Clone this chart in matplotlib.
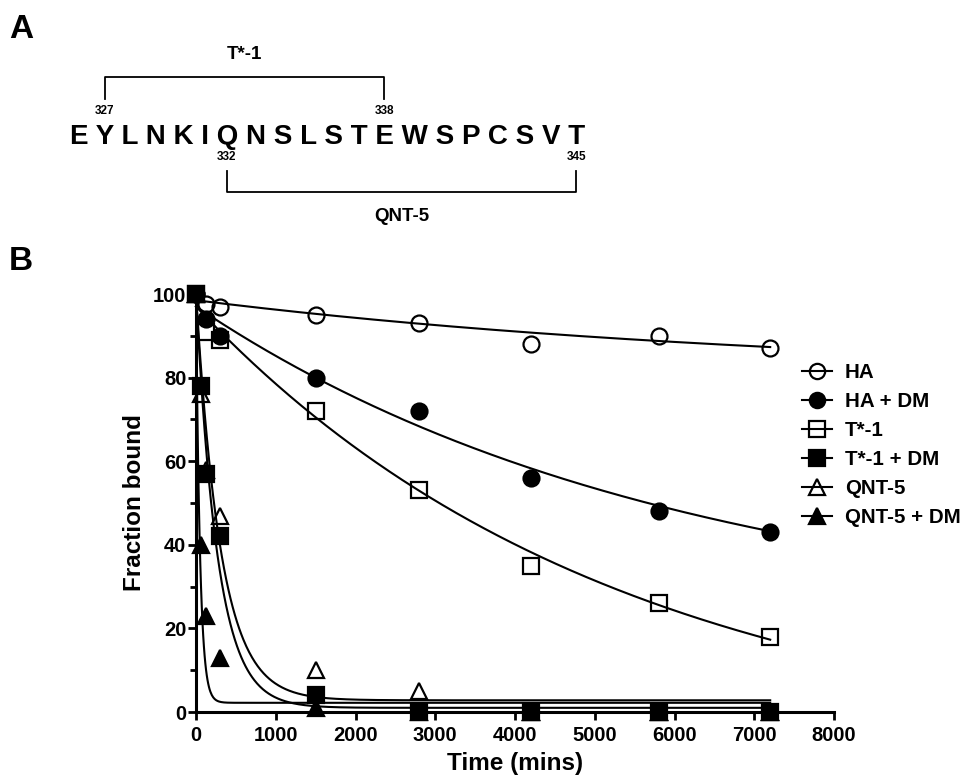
import numpy as np
import matplotlib
matplotlib.use("Agg")
import matplotlib.pyplot as plt
from matplotlib.lines import Line2D
from matplotlib.font_manager import FontProperties

plt.rcParams['font.family'] = ['Liberation Sans', 'DejaVu Sans']
plt.rcParams['font.weight'] = 'bold'
plt.rcParams['axes.labelweight'] = 'bold'

# Panel A: peptide sequence and the two peptides
residues = ["E", "Y", "L", "N", "K", "I", "Q", "N", "S", "L",
            "S", "T", "E", "W", "S", "P", "C", "S", "V", "T"]
first_residue = 326
pep_names = ["T*-1", "QNT-5"]
pep_start = [327, 332]
pep_end = [338, 345]

# Panel B: fraction bound vs time (mins)
t_slow = [0, 120, 300, 1500, 2800, 4200, 5800, 7200]
t_fast = [0, 60, 120, 300, 1500, 2800, 4200, 5800, 7200]

ha = [100, 97.6, 97, 95, 93, 88, 90, 87]
ha_dm = [100, 94, 90, 80, 72, 56, 48, 43]
t1 = [100, 91, 89, 72, 53, 35, 26, 18]
t1_dm = [100, 78, 57, 42, 4, 0, 0, 0, 0]
qnt5 = [100, 76, 58, 47, 10, 5, 0, 0, 0]
qnt5_dm = [100, 40, 23, 13, 1, 0, 0, 0, 0]

series_names = ["HA", "HA + DM", "T*-1", "T*-1 + DM", "QNT-5", "QNT-5 + DM"]
series_t = [t_slow, t_slow, t_slow, t_fast, t_fast, t_fast]
series_y = [ha, ha_dm, t1, t1_dm, qnt5, qnt5_dm]

# one phase decay fits: y = plateau + (y0 - plateau) * exp(-k t)
fit_y0 = [98.5, 97, 97, 100, 100, 100]
fit_plateau = [80, 20, -10, 1.0, 2.8, 2.2]
fit_k = [1.29e-4, 1.664e-4, 1.897e-4, 3.7e-3, 3.2e-3, 2.0e-2]

markers = ["o", "o", "s", "s", "^", "^"]
filled = [False, True, False, True, False, True]

W, H = 968, 779
fig = plt.figure(figsize=(W / 100, H / 100), dpi=100)

# overlay in pixel coords for panel A and panel letters
ax0 = fig.add_axes([0, 0, 1, 1])
ax0.set_xlim(0, W)
ax0.set_ylim(H, 0)
ax0.axis("off")

ax0.text(9, 38, "A", fontsize=24, va="baseline", ha="left")
ax0.text(9, 270, "B", fontsize=24, va="baseline", ha="left")

seq_fs = 20
seq = " ".join(residues)
x_seq = 69.5
ax0.text(x_seq, 143.5, seq, fontsize=seq_fs, va="baseline", ha="left")

# centre of each residue from the text metrics
renderer = fig.canvas.get_renderer()
prop = FontProperties(family=['Liberation Sans', 'DejaVu Sans'], weight='bold', size=seq_fs)
def tw(s):
	return renderer.get_text_width_height_descent(s, prop, ismath=False)[0]
centers = []
for i in range(len(residues)):
	pre = " ".join(residues[:i + 1])
	centers.append(x_seq + tw(pre) - tw(residues[i]) / 2)

def res_x(n):
	return centers[n - first_residue]

# T*-1 above, QNT-5 below
xa, xb = res_x(pep_start[0]), res_x(pep_end[0])
ax0.plot([xa, xa, xb, xb], [99, 76.6, 76.6, 99], color="k", lw=1.3)
ax0.text((xa + xb) / 2, 54.5, pep_names[0], fontsize=13.5, ha="center", va="center")
for n in (pep_start[0], pep_end[0]):
	ax0.text(res_x(n), 111, str(n), fontsize=8.5, ha="center", va="center")

xa, xb = res_x(pep_start[1]), res_x(pep_end[1])
ax0.plot([xa, xa, xb, xb], [170.5, 191.6, 191.6, 170.5], color="k", lw=1.3)
ax0.text((xa + xb) / 2, 216.5, pep_names[1], fontsize=13.5, ha="center", va="center")
for n in (pep_start[1], pep_end[1]):
	ax0.text(res_x(n), 157, str(n), fontsize=8.5, ha="center", va="center")

# Panel B
ax = fig.add_axes([196 / W, 1 - 712 / H, 638 / W, 418 / H])
ax.patch.set_alpha(0)
tt = np.linspace(0, 7200, 800)
handles = []
for i in range(len(series_names)):
	fit = fit_plateau[i] + (fit_y0[i] - fit_plateau[i]) * np.exp(-fit_k[i] * tt)
	ax.plot(tt, fit, color="k", lw=1.5, clip_on=False, zorder=2 + i)
	fc = "k" if filled[i] else "none"
	ax.plot(series_t[i], series_y[i], ls="none", marker=markers[i], ms=11.5,
		mfc=fc, mec="k", mew=1.6, clip_on=False, zorder=3 + i)
	handles.append(Line2D([], [], color="k", lw=1.5, marker=markers[i], ms=11,
		mfc=fc, mec="k", mew=1.6))

ax.set_xlim(0, 8000)
ax.set_ylim(0, 100)
ax.spines[["top", "right"]].set_visible(False)
for s in ["left", "bottom"]:
	ax.spines[s].set_linewidth(2.2)
ax.set_xticks(np.arange(0, 8001, 1000))
ax.set_yticks(np.arange(0, 101, 20))
ax.set_yticks(np.arange(10, 100, 20), minor=True)
ax.tick_params(axis="both", which="major", length=6, width=2, labelsize=14.5)
ax.tick_params(axis="y", which="minor", length=4, width=2)
ax.tick_params(axis="y", which="major", pad=1)
ax.tick_params(axis="x", which="major", pad=4)
ax.set_xlabel("Time (mins)", fontsize=17.5, labelpad=5)
ax.set_ylabel("Fraction bound", fontsize=17.5, labelpad=5)

fig.legend(handles, series_names, loc="upper left", bbox_to_anchor=(802 / W, 1 - 363 / H),
	frameon=False, fontsize=14.8, handlelength=1.46, handletextpad=0.63,
	labelspacing=0.49, borderpad=0, borderaxespad=0)

fig.savefig("out.png", dpi=100)
